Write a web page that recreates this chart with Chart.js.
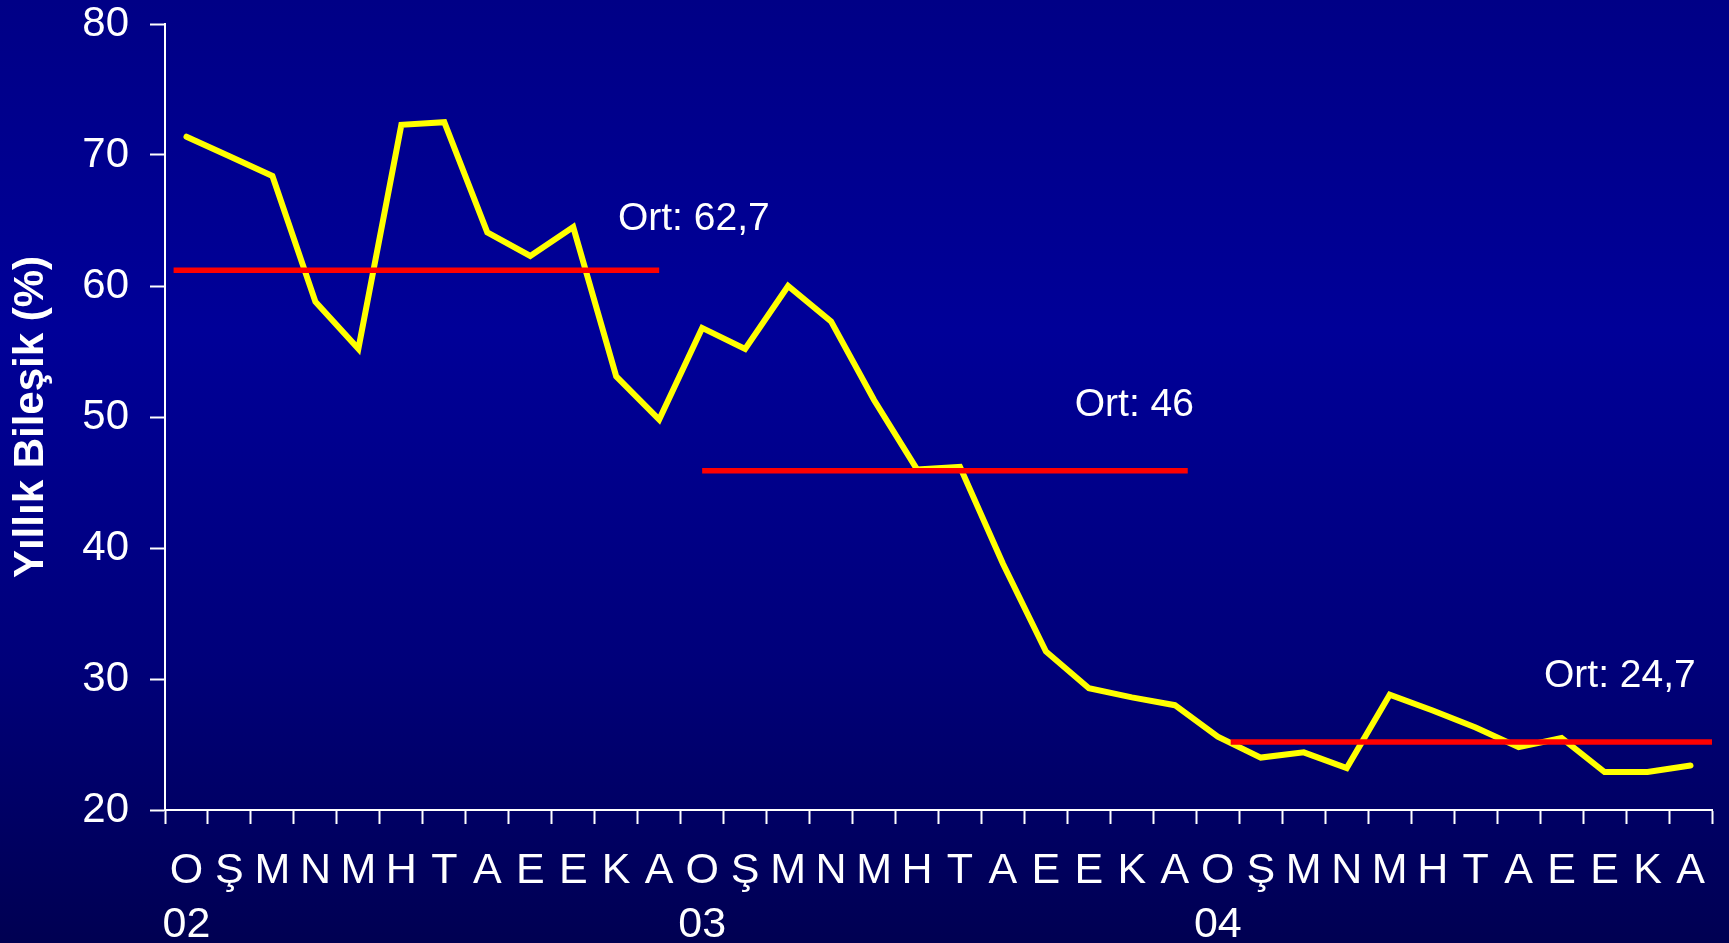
<!DOCTYPE html>
<html>
<head>
<meta charset="utf-8">
<script src="https://cdn.jsdelivr.net/npm/chart.js@4.4.1/dist/chart.umd.min.js"></script>
<style>
  html, body { margin: 0; padding: 0; overflow: hidden; }
  body {
    width: 1729px; height: 943px;
    background: linear-gradient(to bottom, #000086 0%, #000098 35%, #00007a 70%, #000052 100%);
  }
  #wrap { position: relative; width: 1729px; height: 943px; }
</style>
</head>
<body>
<div id="wrap"><canvas id="c"></canvas></div>
<script>
// ---- data ----
const months = ['O', 'Ş', 'M', 'N', 'M', 'H', 'T', 'A', 'E', 'E', 'K', 'A'];
const years = ['02', '03', '04'];
const rates = [
  71.4, 69.9, 68.4, 58.8, 55.2, 72.3, 72.5, 64.1, 62.3, 64.5, 53.1, 49.8,
  56.8, 55.2, 60.0, 57.3, 51.3, 46.0, 46.2, 38.8, 32.1, 29.3, 28.6, 28.0,
  25.6, 24.0, 24.4, 23.2, 28.8, 27.6, 26.3, 24.8, 25.5, 22.9, 22.9, 23.4
];
const avgLevels = [61.2, 45.9, 25.2];
const avgStart = [-0.3, 12.0, 24.3];
const avgEnd = [11.0, 23.3, 35.6];
const avgTexts = ['Ort: 62,7', 'Ort: 46', 'Ort: 24,7'];
const yTicks = [20, 30, 40, 50, 60, 70, 80];
const yTitle = 'Yıllık Bileşik (%)';

// ---- build labels ----
const categories = [];
years.forEach(y => months.forEach((m, i) => categories.push([m, i === 0 ? y : ''])));

const avgDatasets = avgLevels.map((lv, i) => ({
  type: 'line',
  xAxisID: 'xl',
  data: [{ x: avgStart[i], y: lv }, { x: avgEnd[i], y: lv }],
  borderColor: '#ff0000',
  borderWidth: 5.5,
  borderCapStyle: 'butt',
  pointRadius: 0,
  fill: false,
  order: 0
}));

const avgLabelPlugin = {
  id: 'avgLabels',
  afterDatasetsDraw(chart, args, opts) {
    const ctx = chart.ctx;
    const xs = chart.scales.xl, ys = chart.scales.y;
    ctx.save();
    ctx.fillStyle = '#ffffff';
    ctx.font = '39px "Liberation Sans", Arial, sans-serif';
    ctx.textAlign = 'left';
    ctx.textBaseline = 'middle';
    avgTexts.forEach((t, i) => {
      const a = opts.anchors[i];
      ctx.fillText(t, xs.getPixelForValue(a[0]), ys.getPixelForValue(a[1]));
    });
    ctx.restore();
  }
};

new Chart(document.getElementById('c'), {
  type: 'line',
  data: {
    labels: categories,
    datasets: [
      ...avgDatasets,
      {
        xAxisID: 'x',
        data: rates,
        borderColor: '#ffff00',
        borderWidth: 6,
        borderCapStyle: 'round',
        borderJoinStyle: 'miter',
        pointRadius: 0,
        tension: 0,
        fill: false,
        order: 1
      }
    ]
  },
  plugins: [avgLabelPlugin],
  options: {
    responsive: true,
    maintainAspectRatio: false,
    animation: false,
    events: [],
    layout: { padding: { top: 24, right: 17, left: 0, bottom: 0 } },
    plugins: {
      legend: { display: false },
      tooltip: { enabled: false },
      title: { display: false },
      avgLabels: { anchors: [[10.04, 65.1], [20.67, 50.9], [31.59, 30.2]] }
    },
    scales: {
      x: {
        type: 'category',
        offset: true,
        afterFit(s) { s.height = 133; s.paddingLeft = 0; s.paddingRight = 0; },
        grid: {
          display: true,
          offset: true,
          drawOnChartArea: false,
          drawTicks: true,
          tickLength: 14,
          tickWidth: 2,
          tickColor: '#ffffff'
        },
        border: { display: true, color: '#ffffff', width: 2 },
        ticks: {
          color: '#ffffff',
          autoSkip: false,
          maxRotation: 0,
          minRotation: 0,
          padding: 20,
          font: { family: '"Liberation Sans", Arial, sans-serif', size: 43, lineHeight: '54px' }
        }
      },
      xl: {
        type: 'linear',
        display: false,
        min: -0.5,
        max: 35.5
      },
      y: {
        type: 'linear',
        min: 20,
        max: 80,
        afterFit(s) { s.width = 165; s.paddingTop = 0; s.paddingBottom = 0; },
        afterBuildTicks(s) { s.ticks = yTicks.map(v => ({ value: v })); },
        grid: {
          display: true,
          drawOnChartArea: false,
          drawTicks: true,
          tickLength: 15,
          tickWidth: 2,
          tickColor: '#ffffff'
        },
        border: { display: true, color: '#ffffff', width: 2 },
        ticks: {
          color: '#ffffff',
          padding: 21,
          font: { family: '"Liberation Sans", Arial, sans-serif', size: 42, lineHeight: 1.0 }
        },
        title: {
          display: true,
          text: yTitle,
          color: '#ffffff',
          padding: { top: 6, bottom: 0 },
          font: { family: '"Liberation Sans", Arial, sans-serif', size: 42, weight: 'bold', lineHeight: 1.2 }
        }
      }
    }
  }
});
</script>
</body>
</html>
